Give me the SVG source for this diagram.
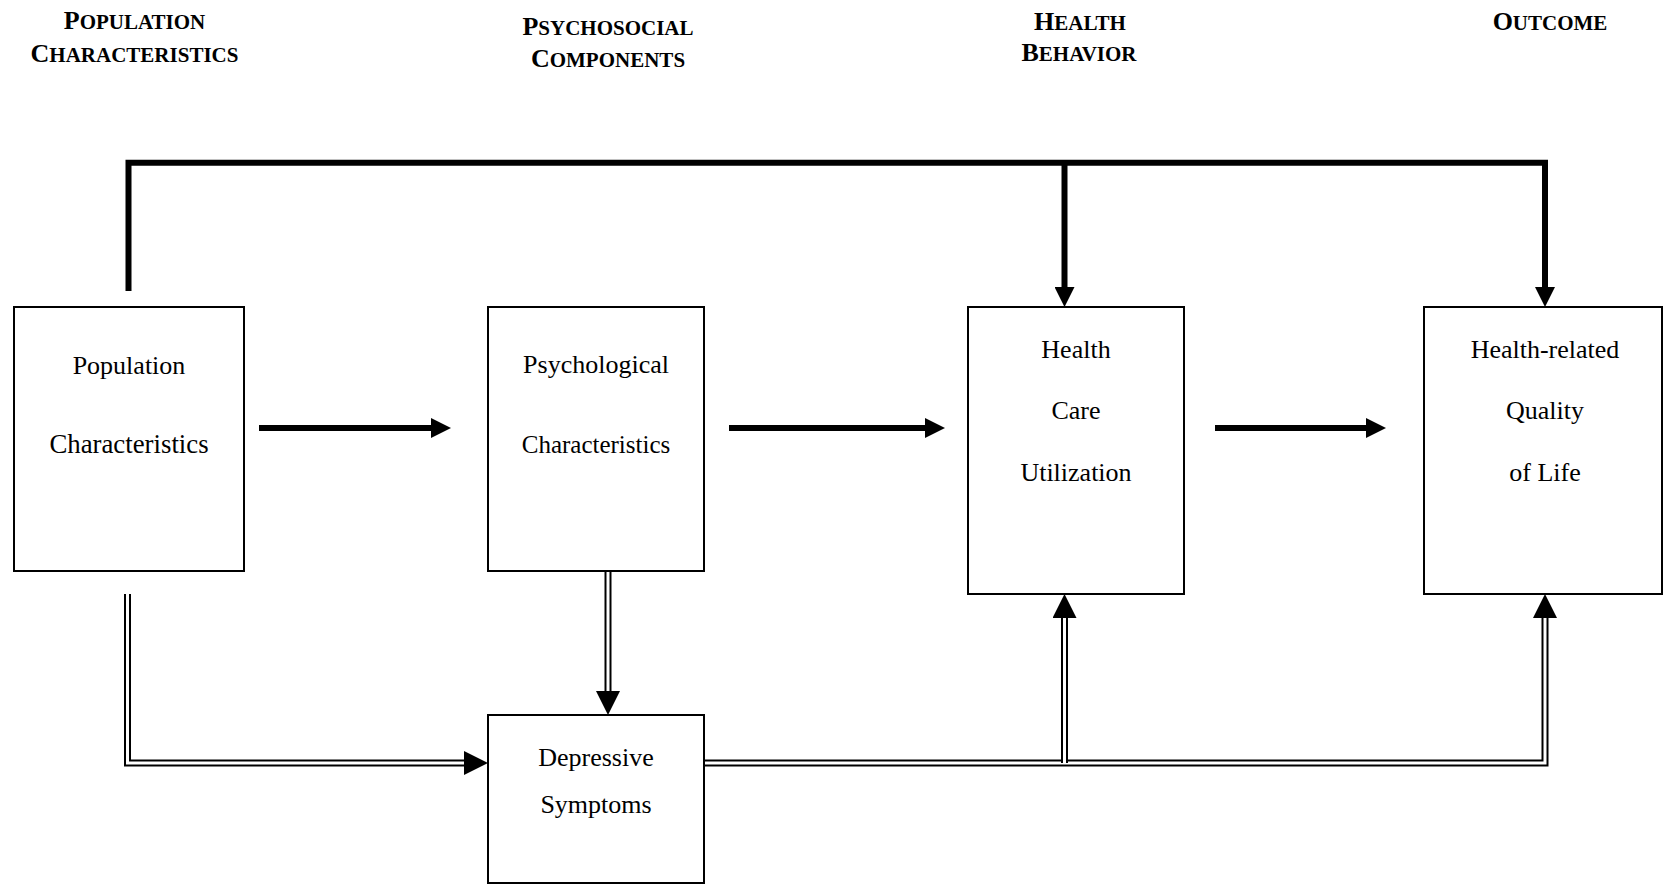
<svg xmlns="http://www.w3.org/2000/svg" width="1664" height="891" viewBox="0 0 1664 891">
  <style>
    .box { fill: #fff; stroke: #000; stroke-width: 2; }
    .label { font-family: "Liberation Serif", "Times New Roman", serif; font-size: 26px; fill: #000; text-anchor: middle; }
    .head { font-family: "Liberation Serif", "Times New Roman", serif; font-weight: bold; fill: #000; text-anchor: middle; }
    .big { font-size: 26px; }
    .sc { font-size: 21px; }
    .thick { fill: none; stroke: #000; stroke-width: 6; stroke-linejoin: miter; }
    .dbl-outer { fill: none; stroke: #000; stroke-width: 7; stroke-linejoin: miter; }
    .dbl-inner { fill: none; stroke: #fff; stroke-width: 3; stroke-linejoin: miter; }
  </style>
  <defs>
    <marker id="headThick" viewBox="0 -10 20 20" markerUnits="userSpaceOnUse" markerWidth="20" markerHeight="20" refX="0" refY="0" orient="auto">
      <path d="M0,-10 L20,0 L0,10 Z" fill="#000"/>
    </marker>
    <marker id="headDouble" viewBox="0 -12 24 24" markerUnits="userSpaceOnUse" markerWidth="24" markerHeight="24" refX="0" refY="0" orient="auto">
      <path d="M0,-12 L24,0 L0,12 Z" fill="#000"/>
    </marker>
  </defs>
  <rect width="1664" height="891" fill="#fff"/>

  <!-- column headings -->
  <g id="headings">
    <text class="head" x="134.5" y="29"><tspan class="big">P</tspan><tspan class="sc">OPULATION</tspan></text>
    <text class="head" x="134.5" y="62"><tspan class="big">C</tspan><tspan class="sc">HARACTERISTICS</tspan></text>
    <text class="head" x="608" y="35"><tspan class="big">P</tspan><tspan class="sc">SYCHOSOCIAL</tspan></text>
    <text class="head" x="608" y="67"><tspan class="big">C</tspan><tspan class="sc">OMPONENTS</tspan></text>
    <text class="head" x="1080" y="30"><tspan class="big">H</tspan><tspan class="sc">EALTH</tspan></text>
    <text class="head" x="1079" y="61"><tspan class="big">B</tspan><tspan class="sc">EHAVIOR</tspan></text>
    <text class="head" x="1550" y="30"><tspan class="big">O</tspan><tspan class="sc">UTCOME</tspan></text>
  </g>

  <!-- connectors -->
  <g id="connectors">
    <!-- direct paths from population characteristics (thick) -->
    <path class="thick" d="M128.5,291 V162.7 H1545 V287" marker-end="url(#headThick)"/>
    <path class="thick" d="M1064.5,162.7 V287" marker-end="url(#headThick)"/>
    <path class="thick" d="M259,428 H431" marker-end="url(#headThick)"/>
    <path class="thick" d="M729,428 H925" marker-end="url(#headThick)"/>
    <path class="thick" d="M1215,428 H1366" marker-end="url(#headThick)"/>

    <!-- paths through depressive symptoms (double lines) -->
    <path class="dbl-outer" d="M127.5,594 V763 H464" marker-end="url(#headDouble)"/>
    <path class="dbl-inner" d="M127.5,594 V763 H464"/>
    <path class="dbl-outer" d="M608,571 V691" marker-end="url(#headDouble)"/>
    <path class="dbl-inner" d="M608,571 V691"/>
    <path class="dbl-outer" d="M704,763 H1545 V618" marker-end="url(#headDouble)"/>
    <path class="dbl-inner" d="M704,763 H1545 V618"/>
    <path class="dbl-outer" d="M1064.5,763 V618" marker-end="url(#headDouble)"/>
    <path class="dbl-inner" d="M1064.5,763 V618"/>
  </g>

  <!-- nodes -->
  <g id="population">
    <rect class="box" x="14" y="307" width="230" height="264"/>
    <text class="label" x="129" y="374">Population</text>
    <text class="label" x="129" y="453" style="font-size:26.8px">Characteristics</text>
  </g>
  <g id="psychological">
    <rect class="box" x="488" y="307" width="216" height="264"/>
    <text class="label" x="596" y="373">Psychological</text>
    <text class="label" x="596" y="453" style="font-size:25px">Characteristics</text>
  </g>
  <g id="health-care">
    <rect class="box" x="968" y="307" width="216" height="287"/>
    <text class="label" x="1076" y="358">Health</text>
    <text class="label" x="1076" y="419">Care</text>
    <text class="label" x="1076" y="481">Utilization</text>
  </g>
  <g id="quality-of-life">
    <rect class="box" x="1424" y="307" width="238" height="287"/>
    <text class="label" x="1545" y="358">Health-related</text>
    <text class="label" x="1545" y="419">Quality</text>
    <text class="label" x="1545" y="481">of Life</text>
  </g>
  <g id="depressive">
    <rect class="box" x="488" y="715" width="216" height="168"/>
    <text class="label" x="596" y="766">Depressive</text>
    <text class="label" x="596" y="813">Symptoms</text>
  </g>
</svg>
